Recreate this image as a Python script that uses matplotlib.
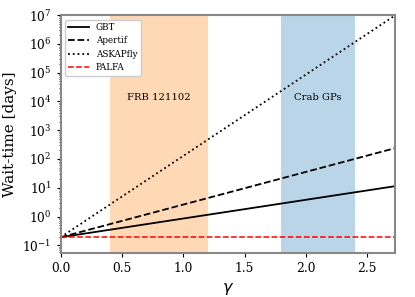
import matplotlib
matplotlib.use("Agg")
import matplotlib.pyplot as plt
import numpy as np

plt.rcParams['font.family'] = 'DejaVu Serif'
plt.rcParams['mathtext.fontset'] = 'dejavusans'

# spectral index range
gamma = [0.0, 2.73]

# wait times at the two ends (days), lines are straight on log axis
gbt = [0.19, 11.4]
apertif = [0.19, 240.0]
askapfly = [0.19, 1.0e7]
palfa = [0.19, 0.19]

# shaded source ranges
frb_range = [0.4, 1.2]
crab_range = [1.8, 2.4]

fig = plt.figure(figsize=(4.15, 2.97), dpi=100)
ax = fig.add_axes([0.146, 0.149, 0.807, 0.80])

ax.axvspan(frb_range[0], frb_range[1], color='C1', alpha=0.3, lw=0)
ax.axvspan(crab_range[0], crab_range[1], color='C0', alpha=0.3, lw=0)

ax.plot(gamma, gbt, color='k', ls='-', lw=1.3, label='GBT')
ax.plot(gamma, apertif, color='k', ls='--', lw=1.3, label='Apertif')
ax.plot(gamma, askapfly, color='k', ls=':', lw=1.3, label='ASKAPfly')
ax.plot(gamma, palfa, color='red', ls='--', lw=1.1, label='PALFA')

ax.text(0.8, 1.4e4, 'FRB 121102', ha='center', va='center', fontsize=7.2)
ax.text(2.1, 1.4e4, 'Crab GPs', ha='center', va='center', fontsize=7.2)

ax.set_yscale('log')
ax.set_xlim(0, 2.73)
ax.set_ylim(0.055, 1e7)
ax.set_yticks([10.0**k for k in range(-1, 8)])
ax.tick_params(labelsize=8.8, length=3)
ax.tick_params(which='minor', length=1.5)

ax.set_ylabel('Wait-time [days]', fontsize=11)
ax.set_xlabel(r'$\gamma$', fontsize=11.5)

for s in ax.spines.values():
    s.set_color('#888888')
    s.set_linewidth(1.5)

ax.legend(loc='upper left', fontsize=6.3, handlelength=2.3, framealpha=1)

fig.savefig('out.png', dpi=100)
